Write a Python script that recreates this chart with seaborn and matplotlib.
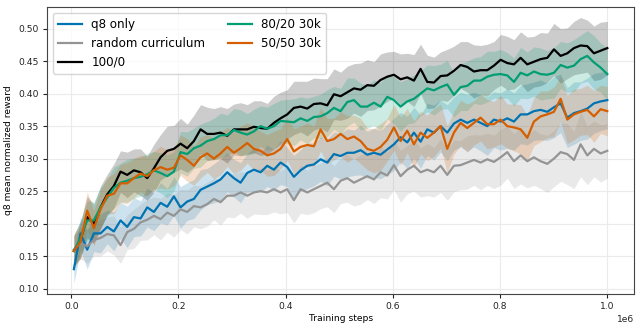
import numpy as np
import pandas as pd
import matplotlib
matplotlib.use("Agg")
import matplotlib.pyplot as plt
import seaborn as sns

# training steps (81 evaluation points)
steps = np.linspace(5000, 1000000, 81)

labels = ["q8 only", "random curriculum", "100/0", "80/20 30k", "50/50 30k"]
colors = ["#0173b2", "#949494", "#000000", "#029e73", "#d55e00"]

q8_only = [0.13, 0.185, 0.16, 0.185, 0.185, 0.195, 0.188, 0.205, 0.195, 0.21,
           0.208, 0.225, 0.218, 0.232, 0.226, 0.242, 0.225, 0.234, 0.238, 0.252,
           0.257, 0.262, 0.268, 0.279, 0.27, 0.263, 0.278, 0.283, 0.279, 0.289,
           0.283, 0.294, 0.287, 0.272, 0.282, 0.289, 0.291, 0.299, 0.294, 0.307,
           0.304, 0.309, 0.309, 0.313, 0.306, 0.309, 0.306, 0.314, 0.322, 0.333,
           0.325, 0.34, 0.326, 0.345, 0.34, 0.35, 0.34, 0.354, 0.36, 0.355,
           0.36, 0.355, 0.35, 0.36, 0.357, 0.362, 0.357, 0.368, 0.368, 0.373,
           0.375, 0.372, 0.379, 0.385, 0.363, 0.37, 0.373, 0.377, 0.385, 0.388,
           0.39]
q8_only_sd = [0.022, 0.025, 0.03, 0.028, 0.03, 0.026, 0.03, 0.028, 0.032, 0.03,
              0.027, 0.03, 0.029, 0.031, 0.028, 0.03, 0.032, 0.029, 0.03, 0.031,
              0.028, 0.03, 0.032, 0.03, 0.029, 0.031, 0.03, 0.033, 0.03, 0.032,
              0.031, 0.034, 0.03, 0.033, 0.032, 0.035, 0.033, 0.034, 0.036, 0.034,
              0.035, 0.037, 0.035, 0.038, 0.036, 0.038, 0.037, 0.039, 0.04, 0.038,
              0.04, 0.039, 0.041, 0.04, 0.042, 0.04, 0.043, 0.041, 0.042, 0.044,
              0.042, 0.043, 0.045, 0.043, 0.044, 0.046, 0.044, 0.045, 0.047, 0.045,
              0.046, 0.044, 0.047, 0.045, 0.046, 0.048, 0.045, 0.047, 0.046, 0.045,
              0.044]

random_curr = [0.16, 0.17, 0.165, 0.175, 0.178, 0.184, 0.182, 0.167, 0.187, 0.192,
               0.202, 0.206, 0.212, 0.207, 0.217, 0.212, 0.222, 0.218, 0.227, 0.225,
               0.23, 0.238, 0.233, 0.243, 0.243, 0.248, 0.243, 0.248, 0.25, 0.248,
               0.253, 0.248, 0.253, 0.236, 0.253, 0.248, 0.253, 0.258, 0.263, 0.253,
               0.266, 0.27, 0.263, 0.268, 0.273, 0.268, 0.279, 0.274, 0.29, 0.273,
               0.283, 0.289, 0.279, 0.283, 0.279, 0.289, 0.275, 0.289, 0.29, 0.294,
               0.298, 0.294, 0.299, 0.295, 0.302, 0.31, 0.296, 0.305, 0.296, 0.302,
               0.296, 0.292, 0.3, 0.31, 0.307, 0.298, 0.322, 0.305, 0.315, 0.308,
               0.312]
random_curr_sd = [0.02, 0.024, 0.026, 0.025, 0.028, 0.026, 0.03, 0.028, 0.027, 0.03,
                  0.028, 0.031, 0.029, 0.032, 0.03, 0.033, 0.031, 0.034, 0.032, 0.033,
                  0.034, 0.032, 0.035, 0.033, 0.034, 0.032, 0.035, 0.033, 0.036, 0.034,
                  0.035, 0.033, 0.036, 0.035, 0.037, 0.034, 0.036, 0.035, 0.037, 0.036,
                  0.035, 0.037, 0.036, 0.038, 0.036, 0.037, 0.039, 0.036, 0.038, 0.04,
                  0.037, 0.039, 0.038, 0.04, 0.038, 0.041, 0.039, 0.04, 0.038, 0.041,
                  0.039, 0.042, 0.04, 0.041, 0.043, 0.04, 0.042, 0.044, 0.041, 0.043,
                  0.042, 0.044, 0.043, 0.045, 0.047, 0.044, 0.05, 0.045, 0.043, 0.044,
                  0.042]

full_100_0 = [0.158, 0.175, 0.21, 0.2, 0.225, 0.245, 0.258, 0.28, 0.275, 0.282,
              0.279, 0.27, 0.285, 0.302, 0.312, 0.315, 0.323, 0.316, 0.327, 0.345,
              0.338, 0.338, 0.34, 0.335, 0.345, 0.345, 0.345, 0.349, 0.347, 0.346,
              0.355, 0.362, 0.368, 0.378, 0.38, 0.377, 0.384, 0.385, 0.382, 0.399,
              0.396, 0.402, 0.408, 0.406, 0.413, 0.412, 0.421, 0.426, 0.429, 0.422,
              0.425, 0.42, 0.438, 0.418, 0.417, 0.427, 0.428, 0.435, 0.444, 0.441,
              0.434, 0.436, 0.436, 0.443, 0.452, 0.447, 0.445, 0.455, 0.445, 0.449,
              0.453, 0.455, 0.468, 0.458, 0.462, 0.47, 0.474, 0.473, 0.462, 0.466,
              0.47]
full_100_0_sd = [0.025, 0.028, 0.032, 0.03, 0.033, 0.031, 0.034, 0.032, 0.035, 0.033,
                 0.036, 0.034, 0.037, 0.035, 0.038, 0.036, 0.039, 0.037, 0.04, 0.038,
                 0.041, 0.039, 0.04, 0.042, 0.039, 0.041, 0.038, 0.04, 0.042, 0.039,
                 0.041, 0.04, 0.038, 0.041, 0.039, 0.042, 0.04, 0.038, 0.041, 0.039,
                 0.037, 0.04, 0.038, 0.041, 0.039, 0.037, 0.04, 0.038, 0.036, 0.039,
                 0.037, 0.04, 0.038, 0.041, 0.039, 0.037, 0.04, 0.038, 0.036, 0.039,
                 0.041, 0.038, 0.04, 0.037, 0.039, 0.041, 0.038, 0.04, 0.042, 0.039,
                 0.041, 0.038, 0.04, 0.042, 0.039, 0.041, 0.043, 0.04, 0.042, 0.044,
                 0.041]

mix_80_20 = [0.158, 0.178, 0.205, 0.205, 0.225, 0.24, 0.255, 0.263, 0.266, 0.27,
             0.272, 0.276, 0.282, 0.278, 0.273, 0.28, 0.31, 0.307, 0.316, 0.32,
             0.327, 0.33, 0.336, 0.336, 0.344, 0.34, 0.337, 0.342, 0.35, 0.346,
             0.35, 0.358, 0.357, 0.356, 0.362, 0.358, 0.364, 0.365, 0.37, 0.378,
             0.373, 0.387, 0.39, 0.38, 0.38, 0.386, 0.38, 0.395, 0.39, 0.38,
             0.388, 0.392, 0.4, 0.408, 0.405, 0.41, 0.414, 0.398, 0.41, 0.412,
             0.42, 0.42, 0.426, 0.429, 0.43, 0.428, 0.418, 0.432, 0.428, 0.434,
             0.43, 0.429, 0.432, 0.444, 0.44, 0.443, 0.453, 0.458, 0.448, 0.44,
             0.43]
mix_80_20_sd = [0.024, 0.027, 0.03, 0.028, 0.031, 0.029, 0.032, 0.03, 0.033, 0.031,
                0.03, 0.032, 0.029, 0.031, 0.033, 0.03, 0.032, 0.034, 0.031, 0.033,
                0.03, 0.032, 0.034, 0.031, 0.033, 0.035, 0.032, 0.034, 0.031, 0.033,
                0.035, 0.032, 0.034, 0.036, 0.033, 0.035, 0.032, 0.034, 0.036, 0.033,
                0.035, 0.037, 0.034, 0.036, 0.033, 0.035, 0.037, 0.034, 0.036, 0.038,
                0.035, 0.037, 0.034, 0.036, 0.038, 0.035, 0.037, 0.034, 0.036, 0.038,
                0.035, 0.037, 0.039, 0.036, 0.038, 0.035, 0.037, 0.039, 0.036, 0.038,
                0.04, 0.037, 0.039, 0.036, 0.038, 0.04, 0.037, 0.039, 0.041, 0.038,
                0.04]

mix_50_50 = [0.158, 0.172, 0.22, 0.193, 0.222, 0.243, 0.246, 0.262, 0.262, 0.27,
             0.277, 0.273, 0.282, 0.287, 0.283, 0.286, 0.305, 0.298, 0.289, 0.302,
             0.308, 0.3, 0.308, 0.318, 0.309, 0.316, 0.324, 0.315, 0.312, 0.305,
             0.308, 0.315, 0.33, 0.311, 0.318, 0.321, 0.319, 0.345, 0.327, 0.33,
             0.338, 0.33, 0.334, 0.327, 0.315, 0.312, 0.318, 0.329, 0.348, 0.327,
             0.343, 0.322, 0.34, 0.332, 0.34, 0.35, 0.315, 0.34, 0.355, 0.347,
             0.355, 0.363, 0.353, 0.353, 0.36, 0.35, 0.348, 0.345, 0.332, 0.357,
             0.365, 0.368, 0.372, 0.392, 0.36, 0.368, 0.372, 0.375, 0.365, 0.376,
             0.373]
mix_50_50_sd = [0.024, 0.026, 0.029, 0.027, 0.03, 0.028, 0.031, 0.029, 0.032, 0.03,
                0.028, 0.031, 0.029, 0.032, 0.03, 0.028, 0.031, 0.033, 0.03, 0.032,
                0.029, 0.031, 0.033, 0.03, 0.032, 0.034, 0.031, 0.033, 0.03, 0.032,
                0.034, 0.031, 0.033, 0.035, 0.032, 0.034, 0.031, 0.033, 0.035, 0.032,
                0.034, 0.036, 0.033, 0.035, 0.032, 0.034, 0.036, 0.033, 0.035, 0.037,
                0.034, 0.036, 0.033, 0.035, 0.037, 0.034, 0.036, 0.033, 0.035, 0.037,
                0.034, 0.036, 0.038, 0.035, 0.037, 0.034, 0.036, 0.038, 0.035, 0.037,
                0.039, 0.036, 0.038, 0.035, 0.037, 0.039, 0.036, 0.038, 0.04, 0.037,
                0.038]

means = [q8_only, random_curr, full_100_0, mix_80_20, mix_50_50]
sds = [q8_only_sd, random_curr_sd, full_100_0_sd, mix_80_20_sd, mix_50_50_sd]

df = pd.concat([pd.DataFrame({"step": steps, "reward": m, "sd": s, "run": lab})
                for lab, m, s in zip(labels, means, sds)], ignore_index=True)

plt.rcParams["font.family"] = "DejaVu Sans"
fig, ax = plt.subplots(figsize=(6.36, 3.24), dpi=100)
fig.subplots_adjust(left=0.074, right=0.997, top=0.978, bottom=0.093)

for lab, col in zip(labels, colors):
    d = df[df["run"] == lab]
    ax.fill_between(d["step"], d["reward"] - d["sd"], d["reward"] + d["sd"],
                    color=col, alpha=0.2, linewidth=0)

sns.lineplot(data=df, x="step", y="reward", hue="run", hue_order=labels,
             palette=colors, linewidth=1.6, ax=ax)

ax.set_xlim(-45000, 1050000)
ax.set_ylim(0.092, 0.533)
ax.set_yticks([0.10, 0.15, 0.20, 0.25, 0.30, 0.35, 0.40, 0.45, 0.50])
ax.ticklabel_format(style="sci", axis="x", scilimits=(0, 0))
ax.grid(True, color="#ebebeb", linewidth=0.8)
ax.set_axisbelow(True)
for sp in ax.spines.values():
    sp.set_color("#444444")
ax.tick_params(labelsize=6.6, colors="#222222", length=3, pad=3)
ax.xaxis.get_offset_text().set_fontsize(6.6)
ax.set_xlabel("Training steps", fontsize=6.6, labelpad=2)
ax.set_ylabel("q8 mean normalized reward", fontsize=6.6, labelpad=4)
ax.legend(ncol=2, loc="upper left", fontsize=8.6, frameon=True,
          handlelength=2.0, columnspacing=1.9, borderaxespad=0.5)

fig.savefig("out.png", dpi=100)
